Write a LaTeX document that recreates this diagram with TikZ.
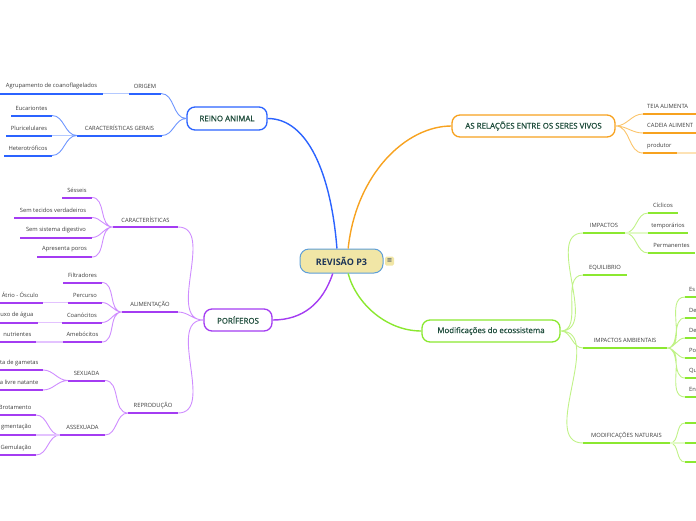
\documentclass[tikz,border=0pt]{standalone}
\usepackage{fontspec}
\setmainfont{Open Sans}
\newfontfamily\symfont{DejaVu Sans}
\newfontfamily\boxfont[FakeBold=0.8]{Open Sans}
\definecolor{cblue}{HTML}{2B63FF}
\definecolor{cbluec}{HTML}{6E96FF}
\definecolor{cbluel}{HTML}{B4C9FF}
\definecolor{cpurple}{HTML}{A43CF2}
\definecolor{cpurplec}{HTML}{CE8CFF}
\definecolor{cpurplel}{HTML}{E3C2FF}
\definecolor{corange}{HTML}{F7A21F}
\definecolor{corangec}{HTML}{FBC46A}
\definecolor{corangel}{HTML}{FDE2B5}
\definecolor{cgreen}{HTML}{8BE830}
\definecolor{cgreenc}{HTML}{C0F287}
\definecolor{cgreenl}{HTML}{E2FAC8}
\definecolor{cfill}{HTML}{F1E6A6}
\definecolor{cborder}{HTML}{5D9ED8}
\definecolor{ctext}{HTML}{1D3557}
\definecolor{boxtext}{HTML}{1F4D3C}
\definecolor{lgray}{HTML}{3C3C3C}
\tikzset{
  lbl/.style={font=\fontsize{5.8}{6}\selectfont, text=lgray, inner sep=0pt},
  ul/.style={line width=2pt},
  cv/.style={line width=0.9pt},
  lk/.style={line width=1.5pt},
  lt/.style={out=180,in=0},
  rt/.style={out=0,in=180},
  box/.style={draw, rounded corners=8pt, fill=white, line width=1.3pt, inner sep=0pt,
    text=boxtext, font=\boxfont\fontsize{7.9}{9}\selectfont},
}
\newcommand\mmtopic[6]{%
  \coordinate (#1-l) at (#2,#4);
  \coordinate (#1-r) at (#3,#4);
  \draw[ul,#5] (#1-l) -- (#1-r);
  \node[lbl] (#1) at ({(#2+#3)/2},{#4-7.5}) {#6};
}
\newcommand\mmclipl[6]{% name, xl, xr, y, color, text (anchored east)
  \coordinate (#1-l) at (#2,#4);
  \coordinate (#1-r) at (#3,#4);
  \draw[ul,#5] (#1-l) -- (#1-r);
  \node[lbl,anchor=east] (#1) at ({#3-4.5},{#4-7.5}) {#6};
}
\newcommand\mmclipr[6]{% name, xl, xr, y, color, text (anchored west)
  \coordinate (#1-l) at (#2,#4);
  \coordinate (#1-r) at (#3,#4);
  \draw[ul,#5] (#1-l) -- (#1-r);
  \node[lbl,anchor=west] (#1) at ({#2+4},{#4-7.5}) {#6};
}
\begin{document}
\begin{tikzpicture}[x=1pt,y=-1pt]
\useasboundingbox (0,0) rectangle (696,520);

% central node
\node[draw=cborder, fill=cfill, rounded corners=9pt, line width=1pt, minimum width=83pt,
  minimum height=24pt, inner sep=0pt, font=\bfseries\fontsize{9}{10}\selectfont, text=ctext]
  (rev) at (341.5,261) {REVISÃO P3};
\node[fill=cfill, rounded corners=1.5pt, minimum size=9pt, inner sep=0pt,
  font=\symfont\fontsize{6.5}{6.5}\selectfont, text=ctext] (menu) at (389.5,261) {≡};

% main boxes
\node[box, draw=cblue, minimum width=80pt, minimum height=23pt] (ra) at (227,118.5) {REINO ANIMAL};
\node[box, draw=cpurple, minimum width=68pt, minimum height=22pt] (po) at (238,320) {PORÍFEROS};
\node[box, draw=corange, minimum width=163pt, minimum height=22pt] (rel) at (533.5,126) {AS RELAÇÕES ENTRE OS SERES VIVOS};
\node[box, draw=cgreen, minimum width=138pt, minimum height=22pt] (mod) at (491,331) {Modificações do ecossistema};

% main connectors
\draw[cblue, line width=1.4pt] (rev.110) .. controls +(-6,-75) and +(40,0) .. (ra.east);
\draw[corange, line width=1.4pt] (rev.62) .. controls +(8,-75) and +(-45,0) .. (rel.west);
\draw[cpurple, line width=1.4pt] (rev.-125) .. controls +(-10,30) and +(30,0) .. (po.east);
\draw[cgreen, line width=1.4pt] (rev.-62) .. controls +(8,30) and +(-35,0) .. (mod.west);

% ---------- REINO ANIMAL ----------
\mmtopic{org}{129}{161}{93.5}{cblue}{ORIGEM}
\mmtopic{agr}{0}{103}{93.5}{cblue}{Agrupamento de coanoflagelados}
\mmtopic{cg}{77}{162}{135.5}{cblue}{CARACTERÍSTICAS GERAIS}
\mmtopic{euc}{11}{52}{115.5}{cblue}{Eucariontes}
\mmtopic{plu}{6}{52}{135.5}{cblue}{Pluricelulares}
\mmtopic{het}{4}{52}{155.5}{cblue}{Heterotróficos}
\draw[cv,cbluec] (ra.west) to[lt] (org-r) (ra.west) to[lt] (cg-r);
\draw[lk,cbluel] (agr-r) -- (org-l);
\draw[lk,cbluel] (plu-r) -- (cg-l);
\draw[cv,cbluec] (cg-l) to[lt] (euc-r) (cg-l) to[lt] (het-r);

% ---------- PORIFEROS ----------
\mmtopic{car}{113}{178}{227}{cpurple}{CARACTERÍSTICAS}
\mmtopic{ses}{62}{92}{197.5}{cpurple}{Sésseis}
\mmtopic{stv}{14}{92}{217.5}{cpurple}{Sem tecidos verdadeiros}
\mmtopic{ssd}{20}{92}{237.5}{cpurple}{Sem sistema digestivo}
\mmtopic{apr}{37}{92}{257}{cpurple}{Apresenta poros}
\mmtopic{ali}{122}{178}{312}{cpurple}{ALIMENTAÇÃO}
\mmtopic{fil}{63}{102}{282.5}{cpurple}{Filtradores}
\mmtopic{per}{68}{102}{302.5}{cpurple}{Percurso}
\mmtopic{coa}{62}{102}{322.5}{cpurple}{Coanócitos}
\mmtopic{ame}{63}{102}{342}{cpurple}{Amebócitos}
\mmclipl{atr}{0}{43}{302.5}{cpurple}{Átrio - Ósculo}
\mmclipl{flx}{0}{38}{322.5}{cpurple}{uxo de água}
\mmclipl{nut}{0}{36}{342}{cpurple}{nutrientes}
\mmtopic{rep}{128}{178}{413}{cpurple}{REPRODUÇÃO}
\mmtopic{sex}{68}{105}{380.5}{cpurple}{SEXUADA}
\mmtopic{ass}{60}{105}{435}{cpurple}{ASSEXUADA}
\mmclipl{ga}{0}{43}{370}{cpurple}{ta de gametas}
\mmclipl{lv}{0}{43}{390}{cpurple}{a livre natante}
\mmclipl{bro}{0}{36}{415}{cpurple}{Brotamento}
\mmclipl{fra}{0}{36}{435}{cpurple}{gmentação}
\mmclipl{gem}{0}{36}{455}{cpurple}{Gemulação}
\draw[cv,cpurplec] (po.west) to[lt] (car-r) (po.west) to[lt] (ali-r) (po.west) to[lt] (rep-r);
\draw[cv,cpurplec] (car-l) to[lt] (ses-r) (car-l) to[lt] (stv-r) (car-l) to[lt] (ssd-r) (car-l) to[lt] (apr-r);
\draw[cv,cpurplec] (ali-l) to[lt] (fil-r) (ali-l) to[lt] (per-r) (ali-l) to[lt] (coa-r) (ali-l) to[lt] (ame-r);
\draw[lk,cpurplel] (atr-r) -- (per-l) (flx-r) -- (coa-l) (nut-r) -- (ame-l);
\draw[cv,cpurplec] (rep-l) to[lt] (sex-r) (rep-l) to[lt] (ass-r);
\draw[cv,cpurplec] (sex-l) to[lt] (ga-r) (sex-l) to[lt] (lv-r);
\draw[cv,cpurplec] (ass-l) to[lt] (bro-r) (ass-l) to[lt] (gem-r);
\draw[lk,cpurplel] (fra-r) -- (ass-l);

% ---------- RELACOES ----------
\mmclipr{tei}{643}{696}{114}{corange}{TEIA ALIMENTA}
\mmclipr{cad}{643}{696}{133}{corange}{CADEIA ALIMENT}
\mmclipr{pro}{643}{677}{153}{corange}{produtor}
\coordinate (proend) at (696,153);
\draw[lk,corangel] (pro-r) -- (proend);
\draw[cv,corangec] (rel.east) to[rt] (tei-l) (rel.east) to[rt] (cad-l) (rel.east) to[rt] (pro-l);

% ---------- MODIFICACOES ----------
\mmtopic{imp}{583}{625}{233}{cgreen}{IMPACTOS}
\mmtopic{cic}{648}{678}{213}{cgreen}{Cíclicos}
\mmtopic{tem}{648}{688}{233}{cgreen}{temporários}
\mmtopic{perm}{648}{695}{253}{cgreen}{Permanentes}
\mmtopic{equ}{583}{627}{275}{cgreen}{EQUILIBRIO}
\mmtopic{ia}{583}{667}{348}{cgreen}{IMPACTOS AMBIENTAIS}
\mmclipr{es}{685}{696}{297}{cgreen}{Es}
\mmclipr{dea}{685}{696}{318}{cgreen}{De}
\mmclipr{deb}{685}{696}{338}{cgreen}{De}
\mmclipr{pol}{685}{696}{358}{cgreen}{Po}
\mmclipr{qu}{685}{696}{378}{cgreen}{Qu}
\mmclipr{en}{685}{696}{397}{cgreen}{En}
\mmtopic{mn}{583}{670}{443}{cgreen}{MODIFICAÇÕES NATURAIS}
\coordinate (mna-l) at (685,423); \coordinate (mna-r) at (696,423);
\coordinate (mnb-l) at (685,443); \coordinate (mnb-r) at (696,443);
\coordinate (mnc-l) at (685,462); \coordinate (mnc-r) at (696,462);
\draw[ul,cgreen] (mna-l) -- (mna-r) (mnb-l) -- (mnb-r) (mnc-l) -- (mnc-r);
\draw[cv,cgreenc] (mod.east) to[rt] (imp-l) (mod.east) to[rt] (equ-l) (mod.east) to[rt] (ia-l) (mod.east) to[rt] (mn-l);
\draw[cv,cgreenc] (imp-r) to[rt] (cic-l) (imp-r) to[rt] (perm-l);
\draw[lk,cgreenl] (imp-r) -- (tem-l);
\draw[cv,cgreenc] (ia-r) to[rt] (es-l) (ia-r) to[rt] (dea-l) (ia-r) to[rt] (deb-l)
  (ia-r) to[rt] (pol-l) (ia-r) to[rt] (qu-l) (ia-r) to[rt] (en-l);
\draw[cv,cgreenc] (mn-r) to[rt] (mna-l) (mn-r) to[rt] (mnc-l);
\draw[lk,cgreenl] (mn-r) -- (mnb-l);
\end{tikzpicture}
\end{document}
